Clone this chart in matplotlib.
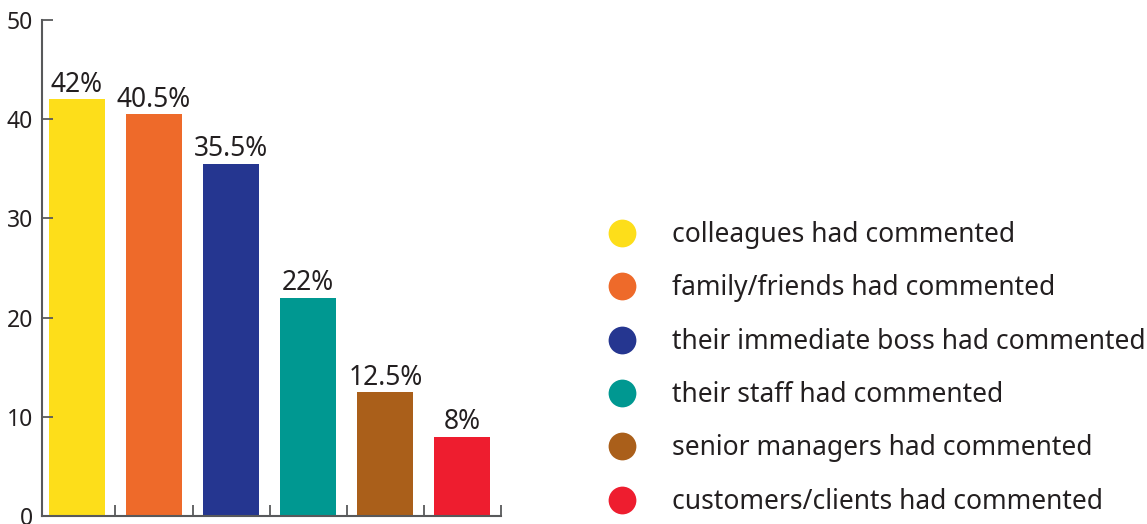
import matplotlib
matplotlib.use("Agg")
import matplotlib.pyplot as plt
from matplotlib.lines import Line2D

categories = ["colleagues had commented", "family/friends had commented",
              "their immediate boss had commented", "their staff had commented",
              "senior managers had commented", "customers/clients had commented"]
values = [42, 40.5, 35.5, 22, 12.5, 8]
value_labels = ["42%", "40.5%", "35.5%", "22%", "12.5%", "8%"]
colors = ["#FDDE1A", "#EE6A2A", "#253690", "#009891", "#AA5F1A", "#EE1D2F"]
yticks = [0, 10, 20, 30, 40, 50]

plt.rcParams['font.family'] = ['Noto Sans', 'DejaVu Sans']
text_color = "#231F20"
axis_color = "#58595B"

fig = plt.figure(figsize=(11.47, 5.24), dpi=100)
ax = fig.add_axes([42/1147, 8/524, (501-42)/1147, (516-20)/524])

x = list(range(len(values)))
bars = ax.bar(x, values, width=0.725, color=colors)
for xi, v, lab in zip(x, values, value_labels):
    ax.text(xi, v + 0.75, lab, ha='center', va='baseline', fontsize=19, color=text_color)

ax.set_xlim(-0.453, 5.5)
ax.set_ylim(0, 50)
ax.set_yticks(yticks)
ax.set_xticks([i + 0.5 for i in x])
ax.set_xticklabels([])
for s in ['top', 'right']:
    ax.spines[s].set_visible(False)
for s in ['left', 'bottom']:
    ax.spines[s].set_color(axis_color)
    ax.spines[s].set_linewidth(1.5)
ax.tick_params(axis='both', direction='in', length=8, width=1.3, color=axis_color,
               labelsize=16.5, labelcolor=text_color)
ax.tick_params(axis='y', pad=6.5)

handles = [Line2D([0], [0], marker='o', linestyle='none', markersize=20,
                  markerfacecolor=c, markeredgecolor='none') for c in colors]
fig.legend(handles, categories, loc='upper left', bbox_to_anchor=(0.531, 0.578),
           frameon=False, fontsize=19, labelspacing=0.96, handlelength=1.0,
           handletextpad=1.4, borderpad=0, borderaxespad=0, labelcolor=text_color)

fig.savefig("out.png", dpi=100)
